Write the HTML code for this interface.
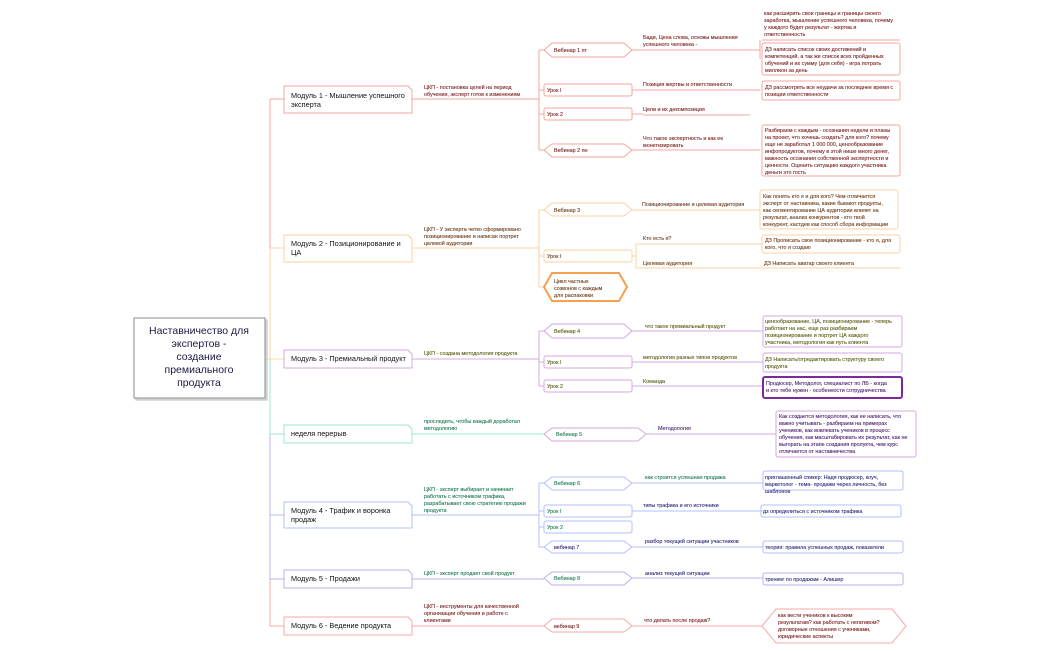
<!DOCTYPE html>
<html><head><meta charset="utf-8"><style>
html,body{margin:0;padding:0;background:#fff;}
svg{display:block;font-family:"Liberation Sans","Noto Sans CJK SC",sans-serif;}
.s{font-size:5.4px;stroke-width:0.1px;}
.m{font-size:7.3px;fill:#111;}
</style></head><body>
<svg width="1050" height="651" viewBox="0 0 1050 651" xmlns="http://www.w3.org/2000/svg">
<g fill="none" stroke-width="1">
<path d="M270 99 V248" stroke="#f5a5a0"/>
<path d="M270 248 V359" stroke="#fdd0a5"/>
<path d="M270 359 V434" stroke="#9ee8d4"/>
<path d="M270 434 V579" stroke="#b8b8f0"/>
<path d="M270 579 V626" stroke="#f8a8a8"/>
<path d="M265 359 H284" stroke="#fdd9a0"/>
<path d="M270 99 H284" stroke="#f5a5a0"/>
<path d="M270 248 H284" stroke="#fdd0a5"/>
<path d="M270 434 H284" stroke="#9ee8cc"/>
<path d="M270 515 H284" stroke="#b0c0fa"/>
<path d="M270 579 H284" stroke="#b8b0f0"/>
<path d="M270 626 H284" stroke="#f8a8a8"/>

<g stroke="#f5a5a0">
<path d="M412 99 H539 M539 50 V150 M539 50 H544 M539 90 H544 M539 114 H544 M539 150 H544"/>
<path d="M632 50 H643 M632 90 H643 M632 114 H643 M632 150 H643"/>
<path d="M643 50 H760 M643 90 H760 M643 115 H750 M643 150 H760"/>
<path d="M760 40 V50 M760 50 V59"/>
<path d="M762 40 H900"/>
<polygon points="544,50 552,43 624,43 632,50 624,57 552,57"/>
<rect x="544" y="84" width="88" height="12" rx="2"/>
<rect x="544" y="108" width="88" height="12" rx="2"/>
<polygon points="544,150 552,144 624,144 632,150 624,157 552,157"/>
<rect x="762" y="43" width="138" height="32" rx="2"/>
<rect x="762" y="81" width="138" height="19" rx="2"/>
<rect x="762" y="125" width="138" height="51" rx="2"/>
</g>
<g stroke="#fdd0a5">
<path d="M412 248 H539 M539 210 V287 M539 210 H544 M539 256 H544 M539 287 H544"/>
<path d="M632 210 H760 M632 256 H636 M636 244 V268 M636 244 H762 M636 268 H762 M762 268 H900"/>
<polygon points="544,210 552,203 624,203 632,210 624,216 552,216"/>
<rect x="544" y="250" width="88" height="12" rx="2"/>
<rect x="760" y="190" width="138" height="39" rx="2"/>
<rect x="762" y="235" width="138" height="18" rx="2"/>
</g>
<polygon points="544,287 552,273 619,273 627,287 619,301 552,301" stroke="#f5a050" stroke-width="2"/>
<g stroke="#d5a8e0">
<path d="M412 359 H539 M539 331 V386 M539 331 H544 M539 362 H544 M539 386 H544"/>
<path d="M632 331 H763 M632 362 H763 M632 386 H763"/>
<polygon points="544,331 552,324 624,324 632,331 624,338 552,338"/>
<rect x="544" y="356" width="88" height="12" rx="2"/>
<rect x="544" y="380" width="88" height="12" rx="2"/>
<rect x="763" y="316" width="139" height="31" rx="2"/>
<rect x="763" y="353" width="139" height="19" rx="2"/>
</g>
<rect x="763" y="377" width="139" height="21" rx="2" stroke="#7a2a9a" stroke-width="2"/>
<path d="M412 434 H544" stroke="#9ee8cc"/>
<g stroke="#d5a8e0">
<polygon points="544,434 552,428 638,428 646,434 638,441 552,441"/>
<path d="M646 434 H776"/>
<rect x="776" y="411" width="140" height="46" rx="2"/>
</g>
<g stroke="#b0c0fa">
<path d="M412 515 H539 M539 483 V547 M539 483 H544 M539 511 H544 M539 527 H544 M539 547 H544"/>
<path d="M632 483 H763 M632 511 H763 M632 547 H763"/>
<polygon points="544,483 552,477 624,477 632,483 624,490 552,490"/>
<rect x="544" y="505" width="88" height="12" rx="2"/>
<rect x="544" y="521" width="88" height="12" rx="2"/>
<polygon points="544,547 552,541 624,541 632,547 624,553 552,553"/>
<rect x="763" y="471" width="140" height="19" rx="2"/>
<rect x="761" y="505" width="140" height="12" rx="2"/>
<rect x="763" y="541" width="140" height="12" rx="2"/>
</g>
<g stroke="#b8b0f0">
<path d="M412 579 H544 M632 578 H763"/>
<polygon points="544,578 552,572 624,572 632,578 624,585 552,585"/>
<rect x="763" y="573" width="140" height="12" rx="2"/>
</g>
<g stroke="#f8a8a8">
<path d="M412 626 H544 M632 626 H762"/>
<polygon points="544,626 552,619 624,619 632,626 624,632 552,632"/>
<polygon points="762,626 776,609 892,609 906,626 892,643 776,643"/>
</g>
<g fill="#fff">
<path d="M284 86 H408 L412 90 V113 H284 Z" stroke="#f5a5a0"/>
<path d="M284 235 H408 L412 239 V262 H284 Z" stroke="#fdd0a5"/>
<path d="M284 350 H408 L412 354 V368 H284 Z" stroke="#d5a8e0"/>
<path d="M284 425 H408 L412 429 V443 H284 Z" stroke="#9ee8cc"/>
<path d="M284 502 H408 L412 506 V528 H284 Z" stroke="#b0c0fa"/>
<path d="M284 570 H408 L412 574 V588 H284 Z" stroke="#b8b0f0"/>
<path d="M284 617 H408 L412 621 V635 H284 Z" stroke="#f8a8a8"/>
<rect x="136" y="320" width="131" height="80" fill="#e4e4ea" stroke="#bbb"/>
<rect x="134" y="318" width="131" height="80" stroke="#888"/>
</g>
</g>

<g font-size="10.5" fill="#1a1a40" text-anchor="middle">
<text x="199" y="334">Наставничество для</text>
<text x="199" y="347">экспертов -</text>
<text x="199" y="360">создание</text>
<text x="199" y="373">премиального</text>
<text x="199" y="386">продукта</text>
</g>
<text class="m" x="291" y="98">Модуль 1 - Мышление успешного</text>
<text class="m" x="291" y="107">эксперта</text>
<text class="m" x="291" y="246">Модуль 2 - Позиционирование и</text>
<text class="m" x="291" y="255">ЦА</text>
<text class="m" x="291" y="361">Модуль 3 - Премиальный продукт</text>
<text class="m" x="291" y="436">неделя перерыв</text>
<text class="m" x="291" y="513">Модуль 4 - Трафик и воронка</text>
<text class="m" x="291" y="522">продаж</text>
<text class="m" x="291" y="581">Модуль 5 - Продажи</text>
<text class="m" x="291" y="628">Модуль 6 - Ведение продукта</text>

<g class="s" fill="#7a2020" stroke="#7a2020">
<text x="424" y="89">ЦКП - постановка целей на период</text>
<text x="424" y="96">обучения, эксперт готов к изменениям</text>
<text x="554" y="52">Вебинар 1 пт</text>
<text x="547" y="92">Урок I</text>
<text x="547" y="116">Урок 2</text>
<text x="554" y="152">Вебинар 2 пн</text>
<text x="643" y="39">Бади, Цена слова, основы мышления</text>
<text x="643" y="46">успешного человека -</text>
<text x="643" y="86">Позиция жертвы и ответственности</text>
<text x="643" y="111">Цели и их декомпозиция</text>
<text x="643" y="140">Что такое экспертность и как ее</text>
<text x="643" y="147">монетизировать</text>
<text x="764" y="15">как расширить свои границы и границы своего</text>
<text x="764" y="22">заработка, мышление успешного человека, почему</text>
<text x="764" y="29">у каждого будет результат - жертва и</text>
<text x="764" y="36">ответственность</text>
<text x="765" y="51">ДЗ написать список своих достижений и</text>
<text x="765" y="58">компетенций, а так же список всех пройденных</text>
<text x="765" y="65">обучений и их сумму (для себя) - игра потрать</text>
<text x="765" y="72">миллион за день</text>
<text x="765" y="89">ДЗ рассмотреть все неудачи за последнее время с</text>
<text x="765" y="96">позиции ответственности</text>
<text x="765" y="132">Разбираем с каждым - осознания недели и планы</text>
<text x="765" y="139">на проект, что хочешь создать? для кого? почему</text>
<text x="765" y="146">еще не заработал 1 000 000, ценообразование</text>
<text x="765" y="153">инфопродуктов, почему в этой нише много денег,</text>
<text x="765" y="160">важность осознания собственной экспертности и</text>
<text x="765" y="167">ценности. Оценить ситуацию каждого участника</text>
<text x="765" y="174">деньги это гость</text>
</g>
<g class="s" fill="#6a3a18" stroke="#6a3a18">
<text x="424" y="231">ЦКП - У эксперта четко сформировано</text>
<text x="424" y="238">позиционирование и написан портрет</text>
<text x="424" y="245">целевой аудитории</text>
<text x="554" y="212">Вебинар 3</text>
<text x="547" y="258">Урок I</text>
<text x="554" y="283">Цикл частных</text>
<text x="554" y="290">созвонов с каждым</text>
<text x="554" y="297">для распаковки</text>
<text x="642" y="206">Позиционирование и целевая аудитория</text>
<text x="643" y="240">Кто есть я?</text>
<text x="643" y="265">Целевая аудитория</text>
<text x="763" y="198">Как понять кто я и для кого? Чем отличается</text>
<text x="763" y="205">эксперт от наставника, какие бывают продукты,</text>
<text x="763" y="212">как сегментирование ЦА аудитории влияет на</text>
<text x="763" y="219">результат, анализ конкурентов - кто твой</text>
<text x="763" y="226">конкурент, кастдев как способ сбора информации</text>
<text x="765" y="242">ДЗ Прописать свое позиционирование - кто я, для</text>
<text x="765" y="249">кого, что я создаю</text>
<text x="764" y="265">ДЗ Написать аватар своего клиента</text>
</g>
<g class="s" fill="#5a5a10" stroke="#5a5a10">
<text x="424" y="355">ЦКП - создана методология продукта</text>
<text x="554" y="333">Вебинар 4</text>
<text x="547" y="364">Урок I</text>
<text x="547" y="388">Урок 2</text>
<text x="645" y="328">что такое премиальный продукт</text>
<text x="643" y="359">методология разных типов продуктов</text>
<text x="643" y="383">Команда</text>
<text x="765" y="323">ценообразование, ЦА, позиционирование - теперь</text>
<text x="765" y="330">работает на нас, еще раз разбираем</text>
<text x="765" y="337">позиционирование и портрет ЦА каждого</text>
<text x="765" y="344">участника, методология как путь клиента</text>
<text x="765" y="361">ДЗ Написать/отредактировать структуру своего</text>
<text x="765" y="368">продукта</text>
</g>
<g class="s" fill="#4a1a6a" stroke="#4a1a6a">
<text x="766" y="385">Продюсер, Методолог, специалист по ЛБ - когда</text>
<text x="766" y="392">и кто тебе нужен - особенности сотрудничества</text>
<text x="658" y="430">Методология</text>
<text x="779" y="418">Как создается методология, как ее написать, что</text>
<text x="779" y="425">важно учитывать - разбираем на примерах</text>
<text x="779" y="432">учеников, как вовлекать учеников в процесс</text>
<text x="779" y="439">обучения, как масштабировать их результат, как не</text>
<text x="779" y="446">выгорать на этапе создания пролукта, чем курс</text>
<text x="779" y="453">отличается от наставничества</text>
</g>
<g class="s" fill="#1a7a50" stroke="#1a7a50">
<text x="424" y="423">проследить, чтобы каждый доработал</text>
<text x="424" y="430">методологию</text>
<text x="556" y="436">Вебинар 5</text>
<text x="424" y="491">ЦКП - эксперт выбирает и начинает</text>
<text x="424" y="498">работать с источником трафика,</text>
<text x="424" y="505">разрабатывает свою стратегию продажи</text>
<text x="424" y="512">продукта</text>
<text x="554" y="485">Вебинар 6</text>
<text x="547" y="513">Урок I</text>
<text x="547" y="529">Урок 2</text>
<text x="645" y="479">как строится успешная продажа</text>
<text x="424" y="575">ЦКП - эксперт продает свой продукт</text>
<text x="554" y="580">Вебинар 8</text>
</g>
<g class="s" fill="#2a2a7a" stroke="#2a2a7a">
<text x="554" y="549">вебинар 7</text>
<text x="643" y="507">типы трафика и его источники</text>
<text x="645" y="543">разбор текущей ситуации участников</text>
<text x="645" y="575">анализ текущей ситуации</text>
<text x="765" y="479">приглашенный спикер: Надя продюсер, коуч,</text>
<text x="765" y="486">маркетолог - тема- продажи через личность, без</text>
<text x="765" y="493">шаблонов</text>
<text x="763" y="513">дз определиться с источником трафика</text>
<text x="765" y="549">теория: правила успешных продаж, показатели</text>
<text x="765" y="581">тренинг по продажам - Алишер</text>
</g>
<g class="s" fill="#7a2020" stroke="#7a2020">
<text x="424" y="608">ЦКП - инструменты для качественной</text>
<text x="424" y="615">организации обучения и работе с</text>
<text x="424" y="622">клиентами</text>
<text x="554" y="628">вебинар 9</text>
<text x="644" y="622">что делать после продаж?</text>
<text x="778" y="617">как вести учеников к высоким</text>
<text x="778" y="624">результатам? как работать с негативом?</text>
<text x="778" y="631">договорные отношения с учениками,</text>
<text x="778" y="638">юридические аспекты</text>
</g>
</svg>
</body></html>
